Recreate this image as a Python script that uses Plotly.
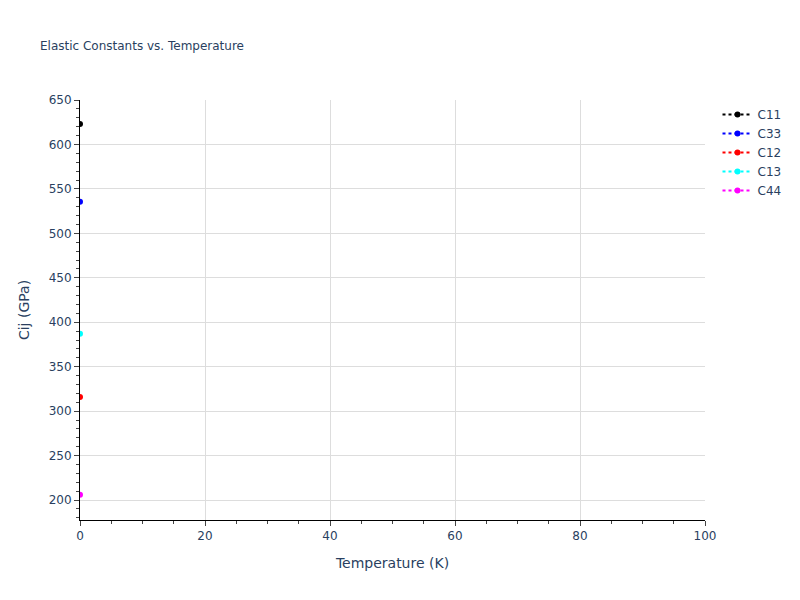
import plotly.graph_objects as go

# elastic constants at each temperature (GPa)
temperature = [0]
series_names = ['C11', 'C33', 'C12', 'C13', 'C44']
series_colors = ['black', 'blue', 'red', 'cyan', 'magenta']
c11 = [623]
c33 = [535.5]
c12 = [316]
c13 = [387]
c44 = [206]

fig = go.Figure()
for name, color, vals in zip(series_names, series_colors, [c11, c33, c12, c13, c44]):
    fig.add_trace(go.Scatter(
        x=temperature, y=vals, name=name, mode='lines+markers',
        line=dict(color=color, dash='dot'),
        marker=dict(color=color, size=6),
    ))

axis_style = dict(
    showline=True, linecolor='black', linewidth=1,
    ticks='outside', ticklen=5, tickcolor='#444',
    showgrid=True, gridcolor='#dddddd', zeroline=False,
    tickfont=dict(size=12),
)

fig.update_layout(
    width=800, height=600,
    title=dict(text='Elastic Constants vs. Temperature', font=dict(size=12), x=0.05),
    plot_bgcolor='white', paper_bgcolor='white',
    font=dict(family='DejaVu Sans, Verdana, sans-serif', color='#2a3f5f'),
    margin=dict(l=80, r=95, t=100, b=80),
    legend=dict(font=dict(size=12)),
    xaxis=dict(title=dict(text='Temperature (K)', font=dict(size=14)), range=[0, 100], dtick=20,
               minor=dict(ticks='outside', ticklen=3, dtick=5, tickcolor='#444'),
               **axis_style),
    yaxis=dict(title=dict(text='Cij (GPa)', font=dict(size=14)), range=[177.5, 650], dtick=50,
               minor=dict(ticks='outside', ticklen=3, dtick=10, tickcolor='#444'),
               **axis_style),
)

# page margin off so the figure sits at the window's top-left corner
fig.write_html('out.html', config={'displayModeBar': False},
               post_script="document.body.style.margin='0px';")
